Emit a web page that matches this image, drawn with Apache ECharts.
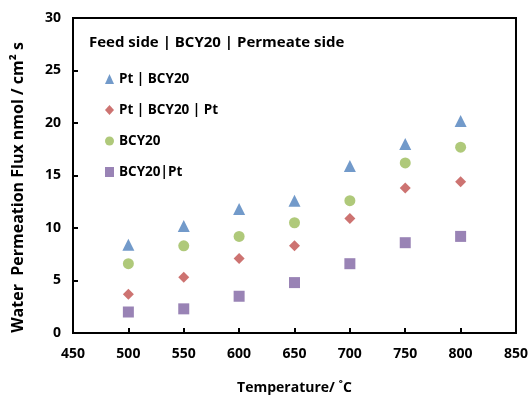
<!DOCTYPE html>
<html>
<head>
<meta charset="utf-8">
<script src="https://cdn.jsdelivr.net/npm/echarts@6/dist/echarts.min.js"></script>
<style>
  html, body { margin: 0; padding: 0; background: #fff; }
  #chart { width: 531px; height: 402px; }
</style>
</head>
<body>
<div id="chart"></div>
<script>
var temps = [500, 550, 600, 650, 700, 750, 800]
var ptBcy = [8.4, 10.2, 11.8, 12.6, 15.9, 18.0, 20.2]
var ptBcyPt = [3.7, 5.3, 7.1, 8.3, 10.9, 13.8, 14.4]
var bcy = [6.6, 8.3, 9.2, 10.5, 12.6, 16.2, 17.7]
var bcyPt = [2.0, 2.3, 3.5, 4.8, 6.6, 8.6, 9.2]
var seriesNames = ['Pt | BCY20', 'Pt | BCY20 | Pt', 'BCY20', 'BCY20|Pt']

var font = 'Open Sans'
var chart = echarts.init(document.getElementById('chart'))

function pairs(vals) {
  return temps.map(function (t, i) { return [t, vals[i]] })
}

chart.setOption({
  animation: false,
  textStyle: { fontFamily: font },
  title: {
    text: 'Feed side | BCY20 | Permeate side',
    left: 84,
    top: 30,
    textStyle: { fontSize: 15, fontWeight: 'bold', color: '#000', fontFamily: font }
  },
  legend: {
    orient: 'vertical',
    left: 100,
    top: 67,
    itemGap: 17,
    itemWidth: 9,
    itemHeight: 10,
    textStyle: { fontSize: 13.5, fontWeight: 'bold', color: '#000', fontFamily: font },
    data: [
      { name: seriesNames[0], icon: 'triangle' },
      { name: seriesNames[1], icon: 'diamond' },
      { name: seriesNames[2], icon: 'circle' },
      { name: seriesNames[3], icon: 'rect' }
    ]
  },
  grid: {
    left: 73, right: 14, top: 18, bottom: 69,
    show: true, borderColor: '#000', borderWidth: 2
  },
  xAxis: {
    type: 'value',
    min: 450, max: 850, interval: 50,
    name: 'Temperature/ ˚C',
    nameLocation: 'middle',
    nameGap: 48,
    nameTextStyle: { fontSize: 14, fontWeight: 'bold', color: '#000' },
    axisLine: { lineStyle: { color: '#000', width: 2 } },
    axisTick: { inside: true, length: 5, lineStyle: { color: '#000', width: 2 } },
    axisLabel: { fontSize: 14, fontWeight: 'bold', color: '#000', margin: 14 },
    splitLine: { show: false }
  },
  yAxis: {
    type: 'value',
    min: 0, max: 30, interval: 5,
    name: 'Water  Permeation Flux nmol / cm² s',
    nameLocation: 'middle',
    nameGap: 47,
    nameTextStyle: { fontSize: 16, fontWeight: 'bold', color: '#000', padding: [0, 24, 0, 0] },
    axisLine: { lineStyle: { color: '#000', width: 2 } },
    axisTick: { inside: true, length: 5, lineStyle: { color: '#000', width: 2 } },
    axisLabel: { fontSize: 14, fontWeight: 'bold', color: '#000', margin: 12 },
    splitLine: { show: false }
  },
  series: [
    { name: seriesNames[0], type: 'scatter', symbol: 'triangle', symbolSize: 12,
      itemStyle: { color: '#4F81BD' }, data: pairs(ptBcy) },
    { name: seriesNames[1], type: 'scatter', symbol: 'diamond', symbolSize: 11,
      itemStyle: { color: '#C0504D' }, data: pairs(ptBcyPt) },
    { name: seriesNames[2], type: 'scatter', symbol: 'circle', symbolSize: 11,
      itemStyle: { color: '#9BBB59' }, data: pairs(bcy) },
    { name: seriesNames[3], type: 'scatter', symbol: 'rect', symbolSize: 11,
      itemStyle: { color: '#8064A2' }, data: pairs(bcyPt) }
  ]
})
</script>
</body>
</html>
